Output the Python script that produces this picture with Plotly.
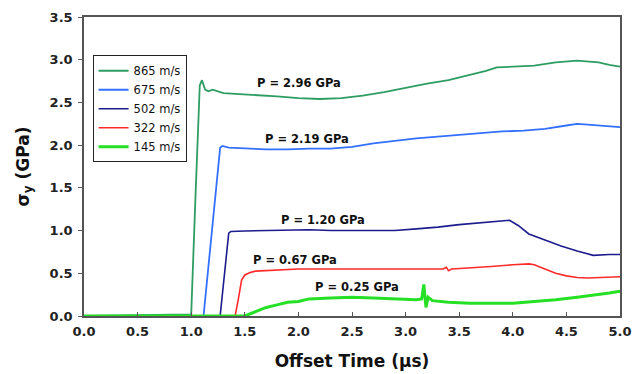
import plotly.graph_objects as go

# ---- data ----
t865 = [0.0, 0.85, 1.00, 1.04, 1.08, 1.10, 1.13, 1.16, 1.20, 1.30, 1.45, 1.60, 1.80, 2.00, 2.20, 2.40, 2.60,
        2.80, 3.00, 3.20, 3.40, 3.60, 3.75, 3.85, 4.00, 4.20, 4.40, 4.60, 4.80, 4.90, 5.00]
s865 = [0.0, 0.01, 0.02, 1.40, 2.70, 2.76, 2.65, 2.63, 2.65, 2.61, 2.60, 2.59, 2.57, 2.55, 2.54, 2.55, 2.58,
        2.62, 2.67, 2.72, 2.76, 2.82, 2.87, 2.91, 2.92, 2.93, 2.97, 2.99, 2.97, 2.94, 2.92]

t675 = [0.0, 1.115, 1.27, 1.29, 1.35, 1.50, 1.70, 1.90, 2.10, 2.30, 2.50, 2.70, 2.90, 3.10, 3.30, 3.50,
        3.70, 3.90, 4.10, 4.30, 4.50, 4.60, 4.70, 4.80, 5.00]
s675 = [0.0, 0.0, 1.97, 1.99, 1.97, 1.96, 1.95, 1.95, 1.96, 1.96, 1.98, 2.02, 2.05, 2.08, 2.10, 2.12,
        2.14, 2.16, 2.17, 2.19, 2.23, 2.25, 2.24, 2.23, 2.21]

t502 = [0.0, 1.27, 1.35, 1.37, 1.50, 1.70, 1.90, 2.10, 2.30, 2.50, 2.70, 2.90, 3.10, 3.30, 3.50, 3.70,
        3.90, 3.97, 4.05, 4.15, 4.30, 4.45, 4.60, 4.75, 4.90, 5.00]
s502 = [0.0, 0.0, 0.97, 0.99, 0.995, 1.00, 1.00, 1.01, 1.00, 1.00, 0.995, 1.00, 1.02, 1.04, 1.07, 1.09,
        1.11, 1.12, 1.06, 0.96, 0.89, 0.82, 0.76, 0.71, 0.72, 0.72]

t322 = [0.0, 1.41, 1.44, 1.47, 1.50, 1.55, 1.60, 1.80, 2.00, 2.20, 2.40, 2.60, 2.80, 3.00, 3.20, 3.35,
        3.38, 3.40, 3.43, 3.60, 3.80, 4.00, 4.15, 4.20, 4.30, 4.40, 4.50, 4.60, 4.70, 4.85, 5.00]
s322 = [0.0, 0.0, 0.20, 0.42, 0.48, 0.51, 0.525, 0.54, 0.55, 0.55, 0.55, 0.545, 0.545, 0.545, 0.545, 0.55,
        0.57, 0.53, 0.55, 0.56, 0.58, 0.60, 0.61, 0.60, 0.55, 0.50, 0.47, 0.45, 0.445, 0.45, 0.46]

t145 = [0.0, 1.50, 1.60, 1.70, 1.80, 1.90, 2.00, 2.10, 2.30, 2.50, 2.70, 2.90, 3.10, 3.15, 3.17, 3.19,
        3.21, 3.25, 3.40, 3.60, 3.80, 4.00, 4.20, 4.40, 4.60, 4.80, 4.90, 5.00]
s145 = [0.0, 0.0, 0.05, 0.10, 0.13, 0.16, 0.17, 0.20, 0.21, 0.22, 0.21, 0.20, 0.19, 0.20, 0.37, 0.10,
        0.22, 0.18, 0.16, 0.15, 0.15, 0.15, 0.17, 0.19, 0.22, 0.25, 0.27, 0.29]

series_names = ["865 m/s", "675 m/s", "502 m/s", "322 m/s", "145 m/s"]
series_t = [t865, t675, t502, t322, t145]
series_s = [s865, s675, s502, s322, s145]
colors = ["#2e9d62", "#3370ff", "#1c1c8e", "#ff2a2a", "#26e026"]
widths = [1.8, 1.8, 1.6, 1.6, 3.0]

labels = ["P = 2.96 GPa", "P = 2.19 GPa", "P = 1.20 GPa", "P = 0.67 GPa", "P = 0.25 GPa"]
label_x = [2.01, 2.08, 2.23, 1.97, 2.55]
label_y = [2.73, 2.075, 1.12, 0.658, 0.337]

xticks = [0.0, 0.5, 1.0, 1.5, 2.0, 2.5, 3.0, 3.5, 4.0, 4.5, 5.0]
yticks = [0.0, 0.5, 1.0, 1.5, 2.0, 2.5, 3.0, 3.5]

FONT = "DejaVu Sans"

fig = go.Figure()
for n, t, s, c, w in zip(series_names, series_t, series_s, colors, widths):
    fig.add_trace(go.Scatter(x=t, y=s, name=n, mode="lines",
                             line=dict(color=c, width=w)))

for txt, lx, ly in zip(labels, label_x, label_y):
    fig.add_annotation(x=lx, y=ly, text="<b>%s</b>" % txt, showarrow=False,
                       font=dict(family=FONT, size=11.5, color="#111"))

axis_common = dict(showgrid=False, zeroline=False, showline=True, linecolor="#555",
                   linewidth=1.5, mirror=True, ticklen=4, tickwidth=1, tickcolor="#555",
                   automargin=False, ticklabeloverflow="allow",
                   tickfont=dict(family=FONT, size=13, color="#222"))

fig.update_xaxes(range=[0, 5], tickvals=xticks, ticktext=["<b>%.1f</b>" % v for v in xticks],
                 ticks="inside", ticklabelstandoff=3,
                 title=dict(text="<b>Offset Time (μs)</b>", font=dict(family=FONT, size=17, color="#111"),
                            standoff=17),
                 **axis_common)
fig.update_yaxes(range=[0, 3.5], tickvals=yticks, ticktext=["<b>%.1f</b>" % v for v in yticks],
                 ticks="outside", ticklabelstandoff=3,
                 title=dict(text="<b>σ<sub>y</sub> (GPa)</b>", font=dict(family=FONT, size=17, color="#111"),
                            standoff=16),
                 **axis_common)

fig.update_layout(
    width=632, height=374,
    margin=dict(l=84, r=12, t=17, b=58),
    paper_bgcolor="white", plot_bgcolor="white",
    showlegend=True,
    legend=dict(x=0.016, y=0.872, xanchor="left", yanchor="top",
                bordercolor="#222", borderwidth=1, bgcolor="white",
                font=dict(family=FONT, size=11.5, color="#111"),
                itemwidth=30, tracegroupgap=0),
)

fig.write_html("out.html")
